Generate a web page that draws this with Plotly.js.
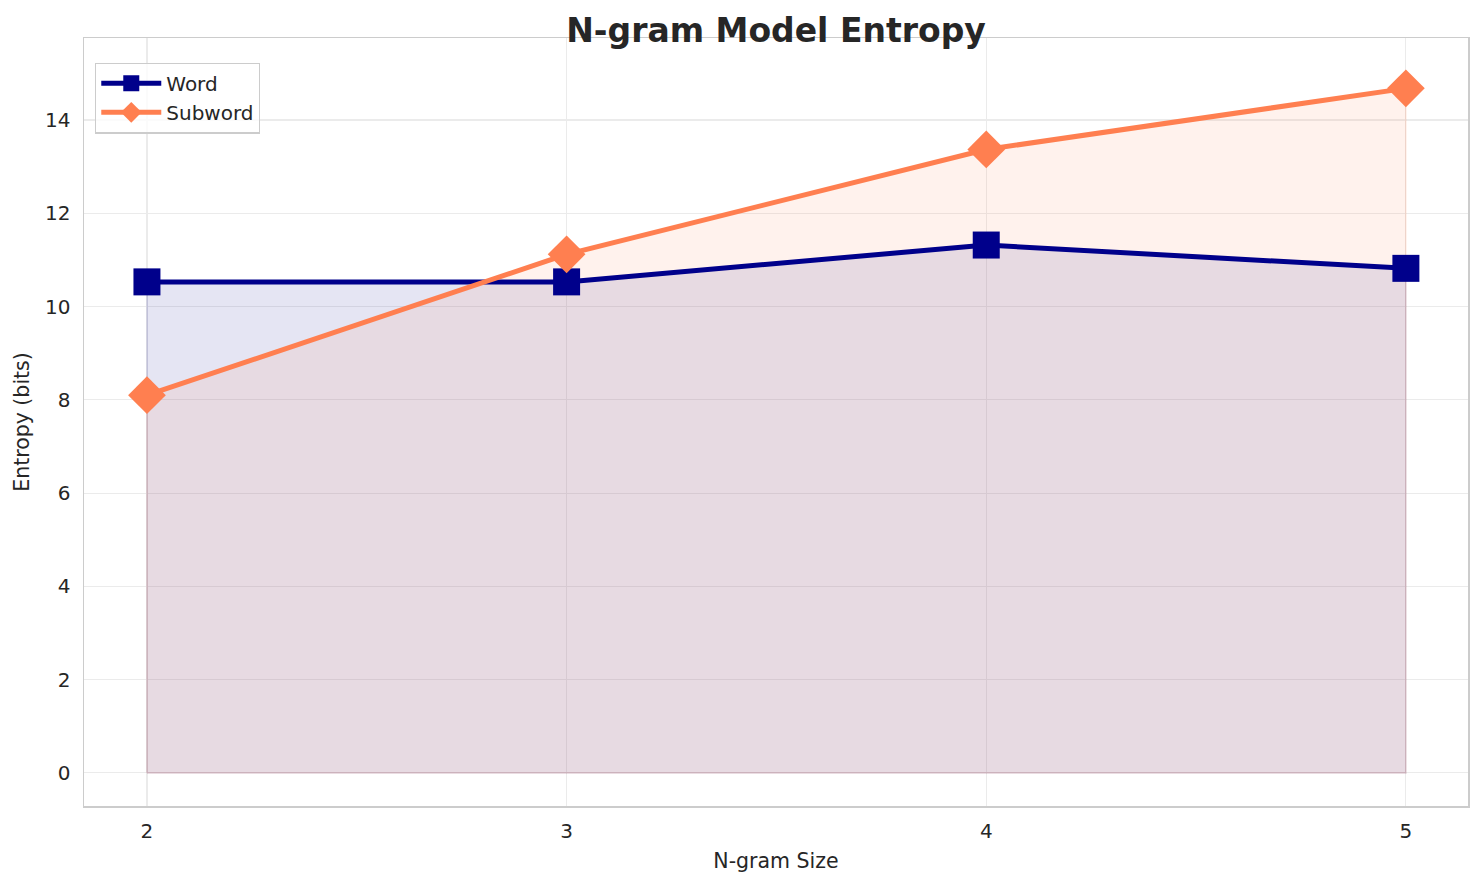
<!DOCTYPE html>
<html>
<head>
<meta charset="utf-8">
<script src="https://cdn.plot.ly/plotly-3.0.1.min.js"></script>
<style>html,body{margin:0;padding:0;background:#fff;}#chart{width:1484px;height:885px;}</style>
</head>
<body>
<div id="chart"></div>
<script>
const ngramSizes = [2, 3, 4, 5];
const wordEntropy = [10.53, 10.53, 11.32, 10.82];
const subwordEntropy = [8.10, 11.12, 13.37, 14.68];
const xTickLabels = ['2', '3', '4', '5'];

function fillPoly(xs, ys) {
  const px = [xs[0]].concat(xs, [xs[xs.length - 1], xs[0]]);
  const py = [0].concat(ys, [0, 0]);
  return {px, py};
}
const wf = fillPoly(ngramSizes, wordEntropy);
const sf = fillPoly(ngramSizes, subwordEntropy);

const traces = [
  {x: wf.px, y: wf.py, mode: 'lines', fill: 'toself', fillcolor: 'rgba(0,0,139,0.1)',
   line: {color: 'rgba(0,0,139,0.12)', width: 1.5}, showlegend: false, hoverinfo: 'skip'},
  {x: sf.px, y: sf.py, mode: 'lines', fill: 'toself', fillcolor: 'rgba(255,127,80,0.1)',
   line: {color: 'rgba(255,127,80,0.15)', width: 1.5}, showlegend: false, hoverinfo: 'skip'},
  {x: ngramSizes, y: wordEntropy, name: 'Word', mode: 'lines+markers',
   line: {color: '#00008B', width: 5}, marker: {symbol: 'square', size: 27, color: '#00008B'}},
  {x: ngramSizes, y: subwordEntropy, name: 'Subword', mode: 'lines+markers',
   line: {color: '#FF7F50', width: 5}, marker: {symbol: 'diamond', size: 29, color: '#FF7F50'}}
];

const layout = {
  width: 1484, height: 885,
  margin: {l: 84, r: 16, t: 38, b: 79},
  paper_bgcolor: '#ffffff', plot_bgcolor: '#ffffff',
  font: {family: 'DejaVu Sans, sans-serif', color: '#262626'},
  title: {text: '<b>N-gram Model Entropy</b>', font: {size: 33, color: '#262626'},
    xref: 'paper', x: 0.5, xanchor: 'center', yref: 'container', y: 0.966, yanchor: 'middle'},
  xaxis: {
    range: [1.85, 5.148], tickvals: ngramSizes, ticktext: xTickLabels,
    showgrid: true, gridcolor: '#ebebeb', gridwidth: 1.2, zeroline: false,
    showline: true, mirror: true, linecolor: '#cccccc', linewidth: 1.5,
    ticks: 'outside', ticklen: 6, tickcolor: 'rgba(0,0,0,0)', tickfont: {size: 20, color: '#262626'},
    title: {text: 'N-gram Size', font: {size: 20.5, color: '#262626'}, standoff: 12}
  },
  yaxis: {
    range: [-0.71, 15.76], tickvals: [0, 2, 4, 6, 8, 10, 12, 14],
    showgrid: true, gridcolor: '#ebebeb', gridwidth: 1.2, zeroline: false,
    showline: true, mirror: true, linecolor: '#cccccc', linewidth: 1.5,
    ticks: 'outside', ticklen: 8, tickcolor: 'rgba(0,0,0,0)', tickfont: {size: 20, color: '#262626'},
    title: {text: 'Entropy (bits)', font: {size: 20.5, color: '#262626'}, standoff: 10}
  },
  legend: {x: 0.008, y: 0.968, xanchor: 'left', yanchor: 'top',
    bgcolor: 'rgba(255,255,255,0.8)', bordercolor: '#cccccc', borderwidth: 1.2,
    font: {size: 20, color: '#262626'}, itemwidth: 60, tracegroupgap: 0},
  showlegend: true
};

Plotly.newPlot('chart', traces, layout, {displayModeBar: false, staticPlot: true});
</script>
</body>
</html>
